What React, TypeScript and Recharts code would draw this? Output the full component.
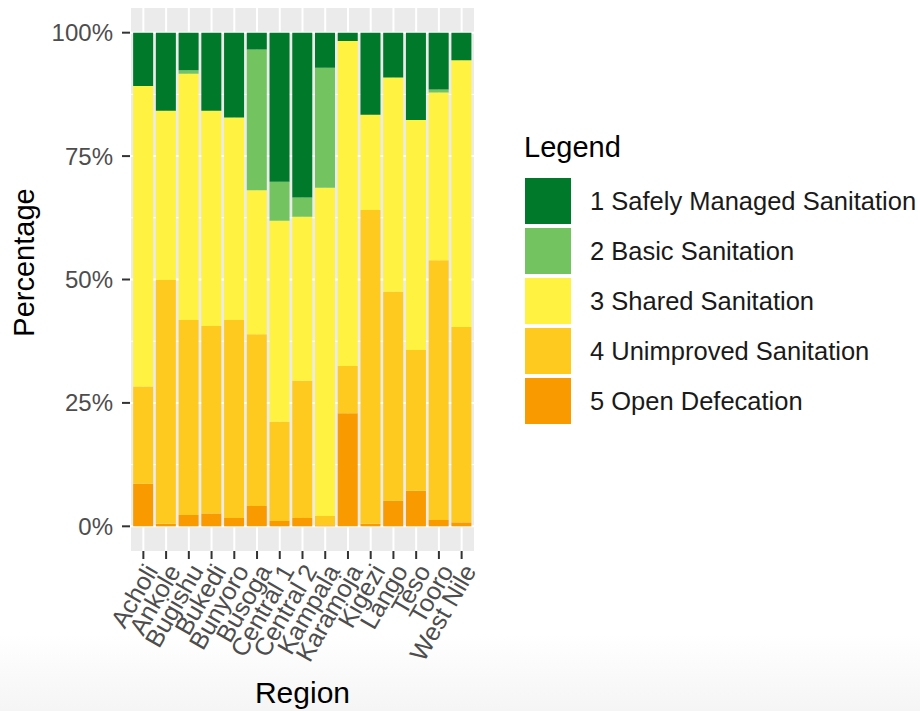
import { Bar, BarChart, CartesianGrid, Legend, XAxis, YAxis } from "recharts";

const regions = [
  "Acholi", "Ankole", "Bugishu", "Bukedi", "Bunyoro", "Busoga", "Central 1", "Central 2",
  "Kampala", "Karamoja", "Kigezi", "Lango", "Teso", "Tooro", "West Nile",
];

// percent of households per ladder step, bottom of the stack first
const openDefecation = [8.6, 0.5, 2.3, 2.6, 1.7, 4.1, 1.1, 1.7, 0.2, 22.9, 0.5, 5.2, 7.2, 1.3, 0.8];
const unimproved = [19.7, 49.4, 39.5, 38.0, 40.1, 34.8, 20.1, 27.8, 1.9, 9.6, 63.6, 42.3, 28.5, 52.6, 39.6];
const shared = [60.9, 34.3, 49.9, 43.6, 41.0, 29.2, 40.7, 33.2, 66.5, 65.8, 19.3, 43.4, 46.6, 34.0, 54.0];
const basic = [0, 0, 0.7, 0, 0, 28.5, 7.9, 3.9, 24.3, 0, 0, 0, 0, 0.6, 0];
const safelyManaged = [10.8, 15.8, 7.6, 15.8, 17.2, 3.4, 30.2, 33.4, 7.1, 1.7, 16.6, 9.1, 17.7, 11.5, 5.6];

const percentTicks = [0, 25, 50, 75, 100];
const minorTicks = [12.5, 37.5, 62.5, 87.5];

const series = [
  { key: "safe", name: "1 Safely Managed Sanitation", color: "#00792A", values: safelyManaged },
  { key: "basic", name: "2 Basic Sanitation", color: "#73C461", values: basic },
  { key: "shared", name: "3 Shared Sanitation", color: "#FFF240", values: shared },
  { key: "unimproved", name: "4 Unimproved Sanitation", color: "#FFCA1F", values: unimproved },
  { key: "open", name: "5 Open Defecation", color: "#F99B00", values: openDefecation },
];

const data = regions.map((region, i) => {
  const row: Record<string, string | number> = { region };
  series.forEach((s) => (row[s.key] = s.values[i]));
  return row;
});

const FONT = "'Liberation Sans', Arial, Helvetica, sans-serif";
const TEXT_GREY = "#4D4D4D";

function RegionTick({ x, y, payload }: any) {
  return (
    <g transform={`translate(${x},${y}) rotate(-60)`}>
      <text x={0} y={0} dy="0.71em" textAnchor="end" fill={TEXT_GREY} fontSize={25} fontFamily={FONT}>
        {payload.value}
      </text>
    </g>
  );
}

function LegendBox() {
  return (
    <svg width={396} height={320} style={{ overflow: "visible" }}>
      <text x={0} y={37} fontSize={29} fontFamily={FONT} fill="#000">
        Legend
      </text>
      {series.map((s, i) => (
        <g key={s.key}>
          <rect x={1} y={58 + i * 50} width={46} height={46} fill={s.color} />
          <text x={66} y={81 + i * 50} dominantBaseline="central" fontSize={25.5} fontFamily={FONT} fill="#1A1A1A">
            {s.name}
          </text>
        </g>
      ))}
    </svg>
  );
}

export default function App() {
  const stackOrder = [...series].reverse();
  return (
    <div
      style={{
        position: "fixed",
        left: 0,
        top: 0,
        width: 920,
        height: 711,
        fontFamily: FONT,
        background: "linear-gradient(to bottom, #ffffff 0px, #ffffff 635px, #f5f5f5 711px)",
      }}
    >
      <BarChart
        width={920}
        height={711}
        data={data}
        margin={{ top: 8, right: 445, left: 0, bottom: 0 }}
        barCategoryGap="5%"
      >
        <CartesianGrid
          fill="#EBEBEB"
          fillOpacity={1}
          stroke="#FFFFFF"
          strokeWidth={2}
          horizontalValues={percentTicks}
        />
        <CartesianGrid
          stroke="#FFFFFF"
          strokeWidth={1}
          vertical={false}
          horizontalValues={minorTicks}
        />
        <XAxis
          dataKey="region"
          type="category"
          interval={0}
          padding={{ left: 2, right: 2 }}
          height={160}
          axisLine={false}
          tickSize={8}
          tickMargin={3}
          tickLine={{ stroke: "#333333", strokeWidth: 2 }}
          tick={<RegionTick />}
          label={(props: any) => {
            const vb = props.viewBox;
            return (
              <text x={vb.x + vb.width / 2} y={vb.y + 152} textAnchor="middle" fontSize={30} fontFamily={FONT} fill="#000">
                Region
              </text>
            );
          }}
        />
        <YAxis
          type="number"
          domain={[-5, 105]}
          ticks={percentTicks}
          allowDataOverflow
          width={130}
          axisLine={false}
          tickSize={8}
          tickMargin={9}
          tickLine={{ stroke: "#333333", strokeWidth: 2 }}
          tick={{ fill: TEXT_GREY, fontSize: 24, fontFamily: FONT }}
          tickFormatter={(v: number) => `${v}%`}
          label={(props: any) => {
            const vb = props.viewBox;
            const cy = vb.y + vb.height / 2 - 17;
            return (
              <text
                x={34}
                y={cy}
                transform={`rotate(-90, 34, ${cy})`}
                textAnchor="middle"
                fontSize={29}
                fontFamily={FONT}
                fill="#000"
              >
                Percentage
              </text>
            );
          }}
        />
        {stackOrder.map((s) => (
          <Bar key={s.key} dataKey={s.key} name={s.name} stackId="a" fill={s.color} isAnimationActive={false} />
        ))}
        <Legend
          layout="vertical"
          align="center"
          verticalAlign="middle"
          content={() => <LegendBox />}
          wrapperStyle={{ left: 524, top: 120, width: 396, height: 320 }}
        />
      </BarChart>
    </div>
  );
}
